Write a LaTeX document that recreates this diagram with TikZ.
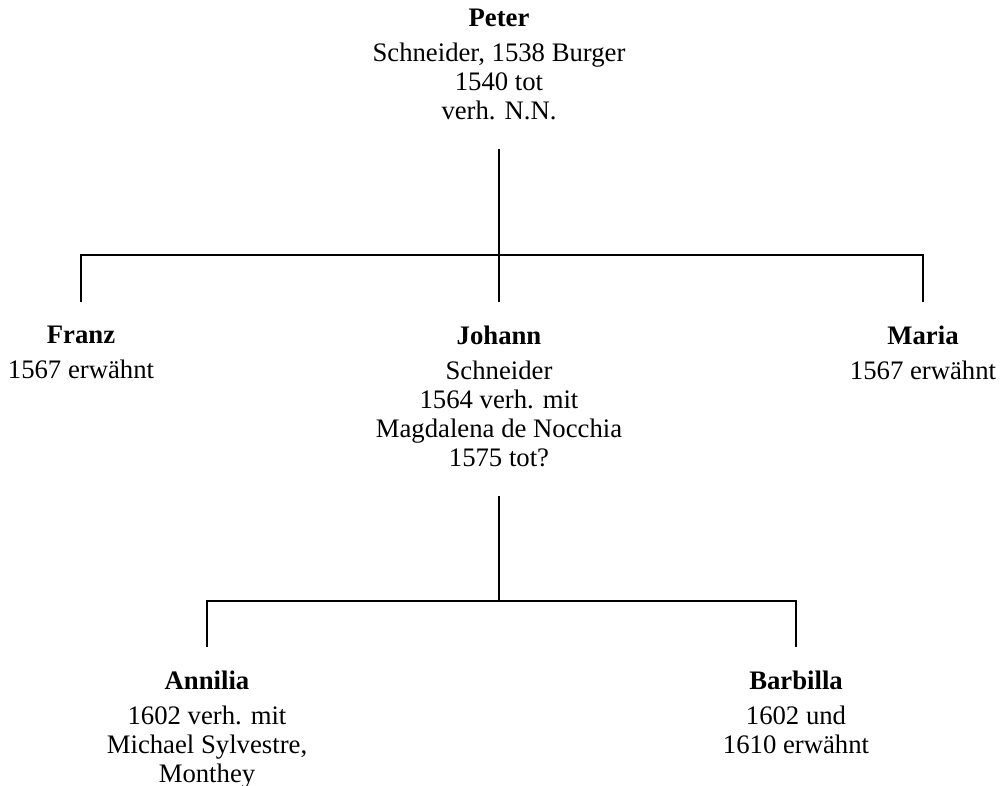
\documentclass[tikz,border=0pt]{standalone}
\usepackage{fontspec}
\setmainfont{Liberation Serif}

\begin{document}
\begin{tikzpicture}[x=0.025cm,y=-0.025cm,line width=1.2pt,
  person/.style={align=center,anchor=north,inner sep=0pt,
    font=\fontsize{19}{20.6}\selectfont},
  down/.style={shorten <=0.72cm,shorten >=0.57cm},
  drop/.style={shorten <=0.57cm,shorten >=0.57cm}]
\useasboundingbox (0,0) rectangle (1003,786);
% Peter and his children
\node[person] (peter) at (499,8) {\textbf{Peter}\\[4.2pt]Schneider, 1538 Burger\\1540 tot\\verh. N.N.};
\node[person] (franz) at (81,325) {\textbf{Franz}\\[4.2pt]1567 erw\"ahnt};
\node[person] (johann) at (499,325) {\textbf{Johann}\\[4.2pt]Schneider\\1564 verh. mit\\Magdalena de Nocchia\\1575 tot?};
\node[person] (maria) at (923,325) {\textbf{Maria}\\[4.2pt]1567 erw\"ahnt};
% Johann's children
\node[person] (annilia) at (207,670) {\textbf{Annilia}\\[4.2pt]1602 verh. mit\\Michael Sylvestre,\\Monthey};
\node[person] (barbilla) at (796,670) {\textbf{Barbilla}\\[4.2pt]1602 und\\1610 erw\"ahnt};
\coordinate (fam1) at (499,255);
\coordinate (fam2) at (499,601);
\draw[down] (peter.south) -- (johann.north);
\draw[drop] (franz.north) |- (fam1) -| (maria.north);
\draw[down,shorten >=0pt] (johann.south) -- (fam2);
\draw[drop] (annilia.north) |- (fam2) -| (barbilla.north);
\end{tikzpicture}
\end{document}
